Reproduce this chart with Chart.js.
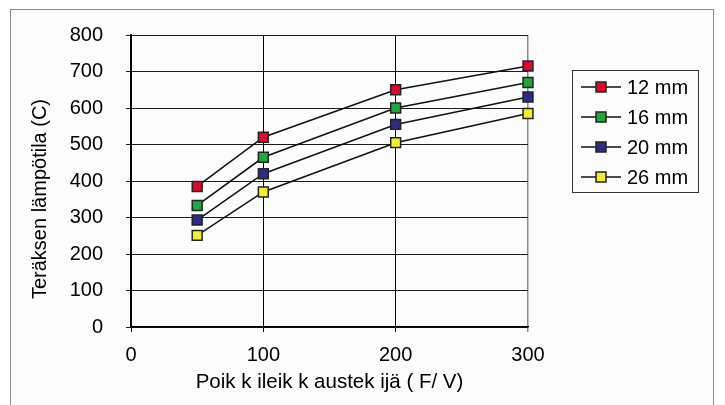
<!DOCTYPE html>
<html>
<head>
<meta charset="utf-8">
<script src="https://cdn.jsdelivr.net/npm/chart.js@4.4.1/dist/chart.umd.min.js"></script>
<style>
  html, body { margin: 0; padding: 0; background: #ffffff; }
  #wrap { width: 725px; height: 405px; }
</style>
</head>
<body>
<div id="wrap"><canvas id="tempChart" width="725" height="405"></canvas></div>
<script>
// Chart data
const labels = ['12 mm', '16 mm', '20 mm', '26 mm'];
const sectionFactor = [50, 100, 200, 300];
const temp12 = [385, 520, 650, 715];
const temp16 = [333, 465, 600, 670];
const temp20 = [293, 420, 555, 630];
const temp26 = [251, 370, 505, 585];
const markerColors = ['#e4062a', '#1fa93a', '#2e2a86', '#f6ee2b'];
const xTicks = [0, 100, 200, 300];
const yTicks = [0, 100, 200, 300, 400, 500, 600, 700, 800];
const yTitle = 'Teräksen lämpötila (C)';
const xTitle = 'Poik k ileik k austek ijä ( F/ V)';

const FONT = "'Liberation Sans', Arial, sans-serif";

function toPoints(values) {
    return sectionFactor.map((x, i) => ({ x: x, y: values[i] }));
}

const series = [temp12, temp16, temp20, temp26];

// Background frame behind the whole chart
const framePlugin = {
    id: 'frame',
    beforeDraw(chart) {
        const ctx = chart.ctx;
        ctx.save();
        ctx.fillStyle = '#ffffff';
        ctx.fillRect(0, 0, chart.width, chart.height);
        ctx.fillStyle = '#fcfcfc';
        ctx.fillRect(11, 10, 703, chart.height);
        ctx.strokeStyle = '#8a8a8a';
        ctx.lineWidth = 1;
        ctx.strokeRect(10.5, 9.5, 703, chart.height + 5);
        ctx.restore();
    }
};

// Y title sits a bit below the plot centre in the original, so draw it by hand
const yTitlePlugin = {
    id: 'yTitle',
    afterDraw(chart) {
        const ctx = chart.ctx;
        ctx.save();
        ctx.translate(40, 199);
        ctx.rotate(-Math.PI / 2);
        ctx.fillStyle = '#000000';
        ctx.font = '20px ' + FONT;
        ctx.textAlign = 'center';
        ctx.textBaseline = 'middle';
        ctx.fillText(yTitle, 0, 0);
        ctx.restore();
    }
};

// Excel-style boxed legend: line through a square marker
const boxLegendPlugin = {
    id: 'boxLegend',
    afterDraw(chart) {
        const ctx = chart.ctx;
        ctx.save();
        ctx.strokeStyle = '#333333';
        ctx.lineWidth = 1;
        ctx.strokeRect(572.5, 70.5, 126, 122);
        chart.data.datasets.forEach((ds, i) => {
            const y = 87 + i * 30;
            ctx.strokeStyle = '#111111';
            ctx.lineWidth = 1.5;
            ctx.beginPath();
            ctx.moveTo(581, y);
            ctx.lineTo(621, y);
            ctx.stroke();
            ctx.fillStyle = ds.pointBackgroundColor;
            ctx.fillRect(596, y - 5, 10, 10);
            ctx.strokeStyle = '#222222';
            ctx.lineWidth = 1.5;
            ctx.strokeRect(596, y - 5, 10, 10);
            ctx.fillStyle = '#000000';
            ctx.font = '20px ' + FONT;
            ctx.textBaseline = 'middle';
            ctx.textAlign = 'left';
            ctx.fillText(ds.label, 627, y + 1);
        });
        ctx.restore();
    }
};

const ctx = document.getElementById('tempChart');

new Chart(ctx, {
    type: 'scatter',
    data: {
        datasets: series.map((values, i) => ({
            label: labels[i],
            data: toPoints(values),
            showLine: true,
            clip: false,
            borderColor: '#111111',
            borderWidth: 1.5,
            pointStyle: 'rect',
            pointRadius: 7,
            pointHoverRadius: 7,
            pointBackgroundColor: markerColors[i],
            pointBorderColor: '#222222',
            pointBorderWidth: 1.5
        }))
    },
    options: {
        responsive: false,
        animation: false,
        layout: {
            padding: { left: 0, right: 197, top: 34, bottom: 0 }
        },
        plugins: {
            legend: { display: false },
            tooltip: { enabled: false }
        },
        scales: {
            x: {
                type: 'linear',
                min: 0,
                max: 300,
                afterBuildTicks: scale => { scale.ticks = xTicks.map(v => ({ value: v })); },
                afterFit: scale => { scale.height = 78; },
                ticks: {
                    color: '#000000',
                    padding: 11,
                    font: { family: FONT, size: 20 }
                },
                grid: {
                    color: ctx => (ctx.tick && ctx.tick.value === 300 ? '#8a8a8a' : '#000000'),
                    lineWidth: ctx => (ctx.tick && ctx.tick.value === 300 ? 1.5 : 1),
                    tickLength: 5
                },
                border: { display: true, color: '#000000', width: 1.5 },
                title: {
                    display: true,
                    text: xTitle,
                    color: '#000000',
                    font: { family: FONT, size: 20.5 },
                    padding: { top: 0, bottom: 10 }
                }
            },
            y: {
                type: 'linear',
                min: 0,
                max: 800,
                afterBuildTicks: scale => { scale.ticks = yTicks.map(v => ({ value: v })); },
                afterFit: scale => { scale.width = 131; },
                ticks: {
                    color: '#000000',
                    padding: 23,
                    font: { family: FONT, size: 20 }
                },
                grid: {
                    color: '#1a1a1a',
                    lineWidth: 1,
                    tickLength: 5
                },
                border: { display: true, color: '#000000', width: 2 }
            }
        }
    },
    plugins: [framePlugin, yTitlePlugin, boxLegendPlugin]
});
</script>
</body>
</html>
